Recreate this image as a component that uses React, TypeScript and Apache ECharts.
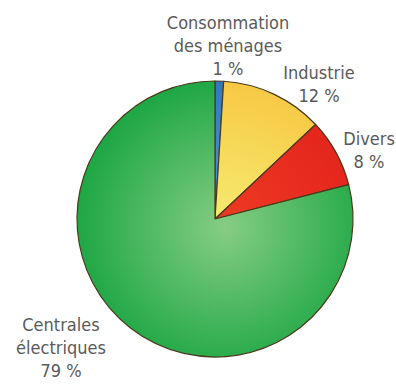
import React, { useEffect, useRef } from "react";
import * as echarts from "echarts";

const categories = ["Consommation\ndes ménages", "Industrie", "Divers", "Centrales\nélectriques"];
const values = [1, 12, 8, 79];
const innerColors = ["#5a9ad6", "#f6ec72", "#ee3a22", "#86cd83"];
const outerColors = ["#2f78c0", "#f7c843", "#e3241d", "#1fa745"];
const labelPos = [
  [228, 45],
  [319, 84],
  [369, 150],
  [61, 347],
];

export default function App() {
  const ref = useRef<HTMLDivElement>(null);
  useEffect(() => {
    document.body.style.margin = "0";
    const chart = echarts.init(ref.current!, null, { renderer: "svg" });
    const cx = 215, cy = 219, r = 138;
    chart.setOption({
      animation: false,
      backgroundColor: "#ffffff",
      series: [
        {
          type: "pie",
          center: [cx, cy],
          radius: r,
          startAngle: 90,
          clockwise: true,
          avoidLabelOverlap: false,
          data: categories.map((name, i) => ({
            name,
            value: values[i],
            itemStyle: {
              color: {
                type: "radial",
                x: cx + 10,
                y: cy + 8,
                r: r + 10,
                global: true,
                colorStops: [
                  { offset: 0, color: innerColors[i] },
                  { offset: 1, color: outerColors[i] },
                ],
              },
            },
          })),
          itemStyle: { borderColor: "#4a3a1c", borderWidth: 1.2 },
          label: {
            show: true,
            position: "outside",
            formatter: (p: any) => `${p.name}\n${p.value} %`,
            color: "#5a5a5a",
            fontFamily: "'DejaVu Sans Condensed', 'Liberation Sans Narrow', sans-serif",
            fontSize: 18,
            lineHeight: 23,
            align: "center",
          },
          labelLine: { show: false },
          labelLayout: (params: any) => ({
            x: labelPos[params.dataIndex][0],
            y: labelPos[params.dataIndex][1],
            align: "center",
            verticalAlign: "middle",
          }),
        },
      ],
    });
    return () => chart.dispose();
  }, []);
  return <div ref={ref} style={{ width: 396, height: 385 }} />;
}
